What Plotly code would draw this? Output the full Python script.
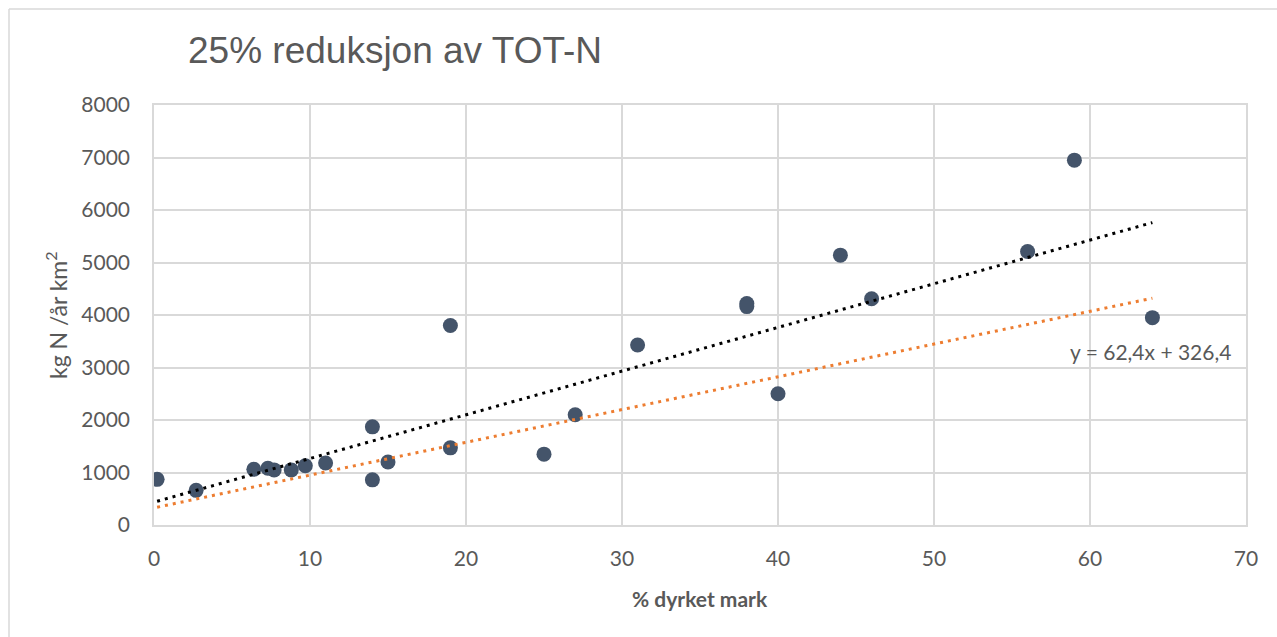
import plotly.graph_objects as go

# ---- data ----
pct_dyrket = [0.2, 2.7, 6.4, 7.3, 7.7, 8.8, 9.7, 11.0, 14.0, 14.0, 15.0, 19.0, 19.0,
              25.0, 27.0, 31.0, 38.0, 38.0, 40.0, 44.0, 46.0, 56.0, 59.0, 64.0]
kg_n = [870, 660, 1060, 1080, 1050, 1050, 1130, 1180, 1870, 860, 1200, 1470, 3800,
        1350, 2100, 3430, 4220, 4160, 2500, 5140, 4310, 5210, 6950, 3950]

# linear trend of the data (black) and the 25 % reduced line (orange)
trend_slope, trend_intercept = 83.2, 435.2
reduced_slope, reduced_intercept = 62.4, 326.4

x_ticks = [0, 10, 20, 30, 40, 50, 60, 70]
y_ticks = [0, 1000, 2000, 3000, 4000, 5000, 6000, 7000, 8000]

x_line = [min(pct_dyrket), max(pct_dyrket)]
y_trend = [trend_slope * x + trend_intercept for x in x_line]
y_reduced = [reduced_slope * x + reduced_intercept for x in x_line]

W, H = 1277, 637
L, R, T, B = 154, 1246, 105, 525
pw, ph = R - L, B - T

def px(xp):
    return (xp - L) / pw

def py(yp):
    return (B - yp) / ph

TXT = "#595959"
GRID = "#D9D9D9"
FONT = "Lato"

fig = go.Figure()
fig.add_trace(go.Scatter(
    x=pct_dyrket, y=kg_n, mode="markers",
    marker=dict(size=15, color="#44546A"),
    showlegend=False, hoverinfo="x+y"))
fig.add_trace(go.Scatter(
    x=x_line, y=y_trend, mode="lines",
    line=dict(color="#000000", width=3, dash="3px,5px"),
    showlegend=False, hoverinfo="skip"))
fig.add_trace(go.Scatter(
    x=x_line, y=y_reduced, mode="lines",
    line=dict(color="#ED7D31", width=3, dash="3px,5px"),
    showlegend=False, hoverinfo="skip"))

fig.update_layout(
    width=W, height=H,
    margin=dict(l=L, r=W - R, t=T, b=H - B),
    paper_bgcolor="white", plot_bgcolor="white",
    font=dict(family=FONT, color=TXT, size=21),
    xaxis=dict(range=[0, 70], tickvals=x_ticks, showgrid=True, gridcolor=GRID,
               gridwidth=1.5, zeroline=False, showline=True, mirror=True,
               linecolor=GRID, linewidth=1.5, ticks="", ticklabelstandoff=14,
               tickfont=dict(family=FONT, size=21, color=TXT)),
    yaxis=dict(range=[0, 8000], tickvals=y_ticks, showgrid=True, gridcolor=GRID,
               gridwidth=1.5, zeroline=False, showline=True, mirror=True,
               linecolor=GRID, linewidth=1.5, ticks="", ticklabelstandoff=18,
               tickfont=dict(family=FONT, size=21, color=TXT)),
    title=dict(text="25% reduksjon av TOT-N", xref="container", yref="container",
               x=188 / W, xanchor="left", y=1 - 50 / H, yanchor="middle",
               font=dict(family="Liberation Sans", size=37, color=TXT)),
    annotations=[
        dict(text="kg N /år km<sup>2</sup>", xref="paper", yref="paper",
             x=px(56), y=0.5, textangle=-90, showarrow=False,
             xanchor="center", yanchor="middle",
             font=dict(family=FONT, size=23, color=TXT)),
        dict(text="<b>% dyrket mark</b>", xref="paper", yref="paper",
             x=0.5, y=py(598), showarrow=False, xanchor="center", yanchor="middle",
             font=dict(family=FONT, size=21, color=TXT)),
        dict(text="y = 62,4x + 326,4", xref="paper", yref="paper",
             x=px(1068), y=py(351), showarrow=False, xanchor="left", yanchor="middle",
             font=dict(family=FONT, size=21, color=TXT)),
    ],
    shapes=[
        dict(type="line", xref="paper", yref="paper", x0=px(9), x1=px(9),
             y0=py(700), y1=py(9), line=dict(color=GRID, width=1.5)),
        dict(type="line", xref="paper", yref="paper", x0=px(9), x1=px(1400),
             y0=py(9), y1=py(9), line=dict(color=GRID, width=1.5)),
    ],
)

fig.write_html("out.html", config={"displayModeBar": False},
               post_script="document.body.style.margin='0';")
